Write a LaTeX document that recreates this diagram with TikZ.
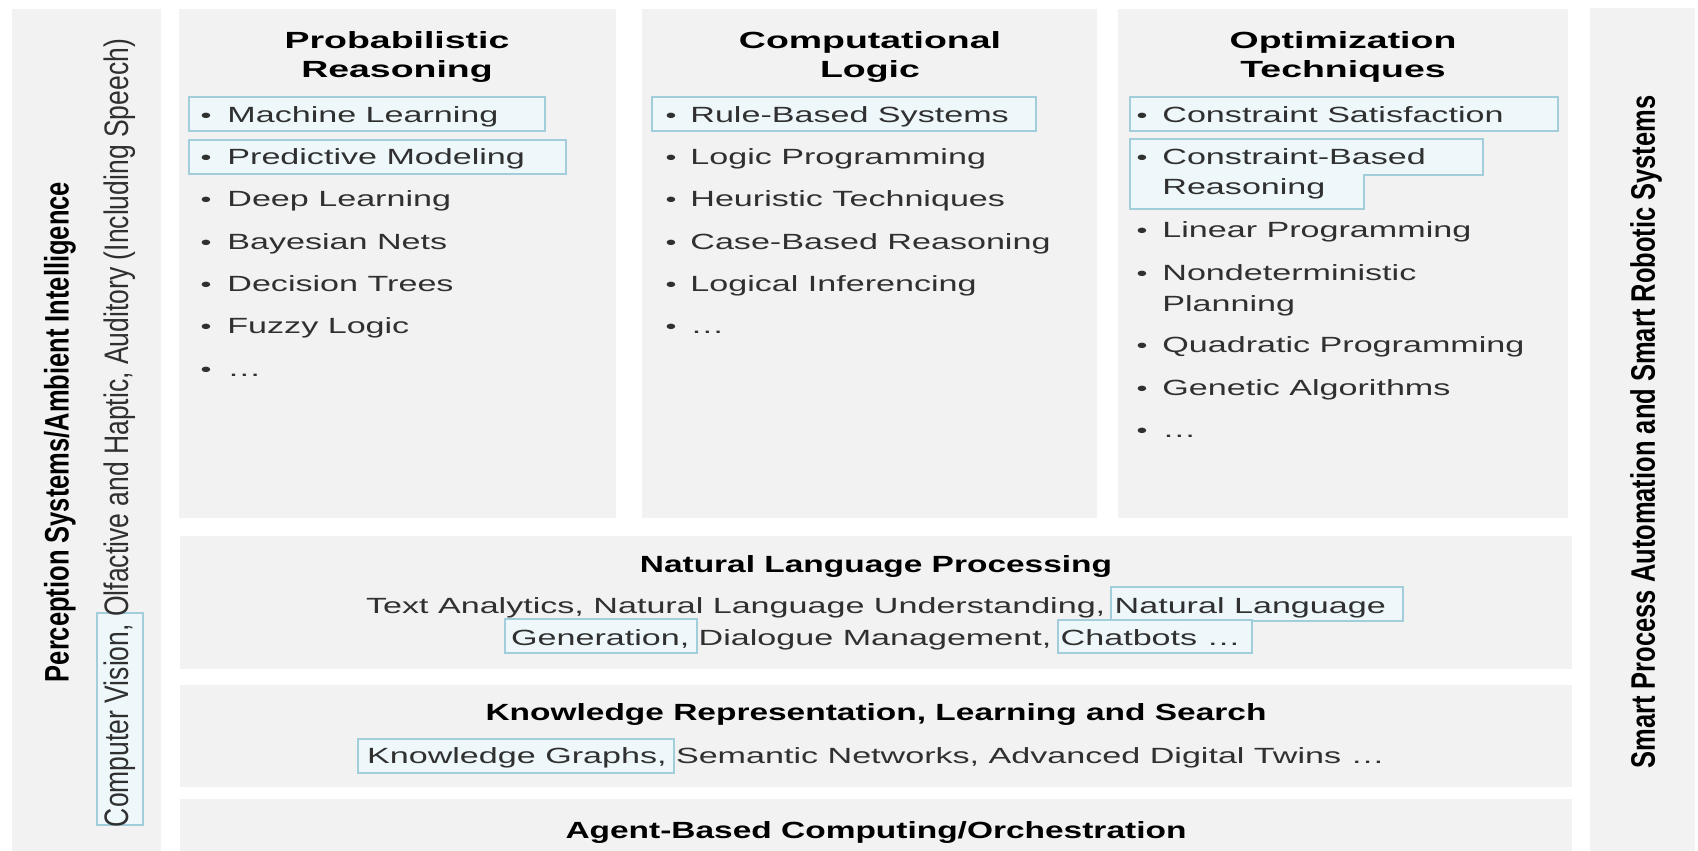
\documentclass[tikz,border=0pt]{standalone}
\usepackage{fontspec}
\setmainfont{Liberation Sans}
\newfontfamily\itemfont{Liberation Sans}[FakeStretch=1.55]
\newfontfamily\headfont{Liberation Sans}[FakeStretch=1.6]
\newfontfamily\rowheadfont{Liberation Sans}[FakeStretch=1.43]
\newfontfamily\sidefont{Liberation Sans}[FakeStretch=0.75]
\newfontfamily\sidelightfont{Liberation Sans}[FakeStretch=0.78]
\definecolor{panelgray}{HTML}{F2F2F2}
\definecolor{hiline}{HTML}{A2CEDC}
\definecolor{hifill}{HTML}{EEF8FB}
\definecolor{bodytext}{HTML}{303030}

\begin{document}
\begin{tikzpicture}[x=0.5pt, y=-0.5pt,
    panel/.style={fill=panelgray},
    hilite/.style={draw=hiline, fill=hifill, line width=1pt},
    item/.style={anchor=base west, inner sep=0pt, text=bodytext, font=\itemfont\fontsize{11}{13}\selectfont},
    bulletmark/.style={anchor=base, inner sep=0pt, text=bodytext, font=\itemfont\fontsize{10}{12}\selectfont},
    colhead/.style={anchor=base, inner sep=0pt, font=\headfont\bfseries\fontsize{11.7}{14}\selectfont},
    rowhead/.style={anchor=base, inner sep=0pt, font=\rowheadfont\bfseries\fontsize{11.7}{14}\selectfont},
    rowtext/.style={anchor=base, inner sep=0pt, text=bodytext, font=\itemfont\fontsize{11}{13}\selectfont},
    sidehead/.style={rotate=90, inner sep=0pt, font=\sidefont\bfseries\fontsize{17}{20}\selectfont},
    sidetext/.style={rotate=90, inner sep=0pt, text=bodytext, font=\sidelightfont\fontsize{17}{20}\selectfont}]
  \useasboundingbox (0,0) rectangle (1698,851);

  % panels
  \fill[panel] (12,9) rectangle (161,851);
  \fill[panel] (179,9) rectangle (616,518);
  \fill[panel] (642,9) rectangle (1097,518);
  \fill[panel] (1118,9) rectangle (1568,518);
  \fill[panel] (1590,8) rectangle (1695,851);
  \fill[panel] (180,536) rectangle (1572,669);
  \fill[panel] (180,685) rectangle (1572,787);
  \fill[panel] (180,799) rectangle (1572,851);

  % highlighted entries
  \filldraw[hilite] (189,97) rectangle (545,131);
  \filldraw[hilite] (189,140) rectangle (566,174);
  \filldraw[hilite] (652,97) rectangle (1036,131);
  \filldraw[hilite] (1130,97) rectangle (1558,131);
  \filldraw[hilite] (1130,139) -- (1483,139) -- (1483,175) -- (1364,175) -- (1364,209) -- (1130,209) -- cycle;
  \filldraw[hilite] (97,613) rectangle (143,825);
  \filldraw[hilite] (1111,587) rectangle (1403,621);
  \filldraw[hilite] (505,619) rectangle (697,653);
  \filldraw[hilite] (1058,620) rectangle (1252,653);
  \filldraw[hilite] (358,739) rectangle (674,773);

  % side labels
  \node[sidehead] (percep) at (60,432) {Perception Systems/Ambient Intelligence};
  \node[sidetext] (senses) at (120,433) {Computer Vision, Olfactive and Haptic, Auditory (Including Speech)};
  \node[sidehead] (smart) at (1646,432) {Smart Process Automation and Smart Robotic Systems};

  % column heads
  \node[colhead] (probA) at (397,48) {Probabilistic};
  \node[colhead] (probB) at (397,77) {Reasoning};
  \node[colhead] (compA) at (870,48) {Computational};
  \node[colhead] (compB) at (870,77) {Logic};
  \node[colhead] (optA) at (1343,48) {Optimization};
  \node[colhead] (optB) at (1343,77) {Techniques};

  \foreach \y/\txt [count=\i] in {122/Machine Learning, 164/Predictive Modeling, 206/Deep Learning,
      249/Bayesian Nets, 291/Decision Trees, 333/Fuzzy Logic, 376/\ldots}{
    \node[bulletmark] (prdot\i) at (206,\y) {•};
    \node[item] (pr\i) at (227,\y) {\txt};
  }
  \foreach \y/\txt [count=\i] in {122/Rule-Based Systems, 164/Logic Programming, 206/Heuristic Techniques,
      249/Case-Based Reasoning, 291/Logical Inferencing, 333/\ldots}{
    \node[bulletmark] (cldot\i) at (671,\y) {•};
    \node[item] (cl\i) at (690,\y) {\txt};
  }
  \foreach \y/\txt [count=\i] in {122/Constraint Satisfaction, 164/Constraint-Based, 237/Linear Programming,
      280/Nondeterministic, 352/Quadratic Programming, 395/Genetic Algorithms, 437/\ldots}{
    \node[bulletmark] (otdot\i) at (1142,\y) {•};
    \node[item] (ot\i) at (1162,\y) {\txt};
  }
  \node[item] (ot2b) at (1162,194) {Reasoning};
  \node[item] (ot4b) at (1162,311) {Planning};

  % layers
  \node[rowhead] (nlp) at (876,572) {Natural Language Processing};
  \node[rowtext] (nlpA) at (876,613) {Text Analytics, Natural Language Understanding, Natural Language};
  \node[rowtext] (nlpB) at (876,645) {Generation, Dialogue Management, Chatbots \ldots};
  \node[rowhead] (krls) at (876,720) {Knowledge Representation, Learning and Search};
  \node[rowtext] (krlsA) at (876,763) {Knowledge Graphs, Semantic Networks, Advanced Digital Twins \ldots};
  \node[rowhead] (agent) at (876,838) {Agent-Based Computing/Orchestration};
\end{tikzpicture}
\end{document}
